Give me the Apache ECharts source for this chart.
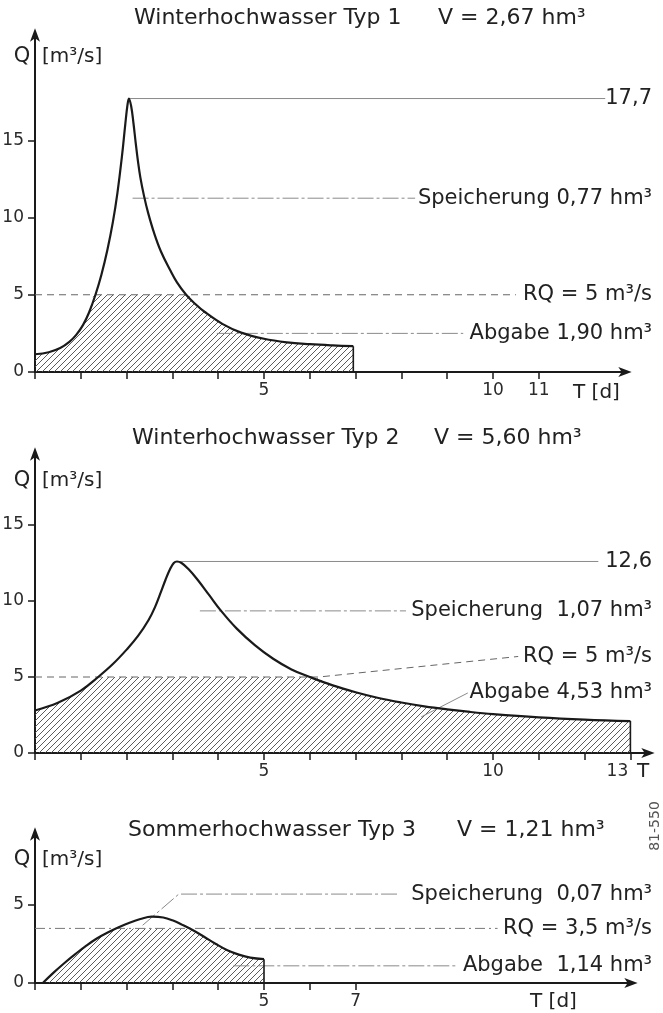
<!DOCTYPE html>
<html>
<head>
<meta charset="utf-8">
<script src="https://cdn.jsdelivr.net/npm/echarts@6/dist/echarts.min.js"></script>
<style>
  html, body { margin: 0; padding: 0; background: #fff; }
  #c { width: 663px; height: 1013px; }
</style>
</head>
<body>
<div id="c"></div>
<script>
// ---- Winterhochwasser Typ 1 ----
const t1 = [0, 0.3, 0.55, 0.75, 0.9, 1.05, 1.18, 1.32, 1.45, 1.58, 1.7, 1.8, 1.9, 1.97, 2.02, 2.05, 2.1, 2.15, 2.2, 2.25, 2.3, 2.38, 2.47, 2.6, 2.75, 2.95, 3.1, 3.3, 3.5, 3.7, 4.1, 4.5, 5.0, 5.5, 6.0, 6.5, 6.95];
const q1 = [1.15, 1.28, 1.55, 1.95, 2.4, 3.05, 3.85, 5.0, 6.3, 7.9, 9.7, 11.6, 14.0, 16.0, 17.3, 17.7, 17.2, 16.1, 14.8, 13.6, 12.6, 11.4, 10.3, 9.0, 7.8, 6.6, 5.8, 5.0, 4.4, 3.9, 3.1, 2.55, 2.15, 1.92, 1.8, 1.72, 1.67];
const rq1 = 5;
const xTicks1 = [0, 1, 2, 3, 4, 5, 6, 7, 8, 9, 10, 11];
const xLabels1 = [5, 10, 11];
const yTicks1 = [0, 5, 10, 15];
const peakLead1 = [[2.05, 17.7], [12.45, 17.7]];
const storeLead1 = [[2.13, 11.25], [8.3, 11.25]];
const rqLead1 = [[0, 5], [10.5, 5]];
const outLead1 = [[3.97, 2.5], [9.35, 2.5]];

// ---- Winterhochwasser Typ 2 ----
const t2 = [0, 0.5, 1.0, 1.38, 1.7, 2.0, 2.25, 2.48, 2.62, 2.75, 2.85, 2.95, 3.03, 3.1, 3.2, 3.35, 3.55, 3.8, 4.05, 4.4, 4.8, 5.2, 5.6, 6.0, 6.5, 7.0, 7.5, 8.0, 8.5, 9.0, 9.5, 10, 11, 12, 13];
const q2 = [2.8, 3.3, 4.1, 5.0, 5.85, 6.8, 7.7, 8.75, 9.6, 10.6, 11.4, 12.1, 12.5, 12.6, 12.5, 12.1, 11.4, 10.4, 9.4, 8.2, 7.1, 6.2, 5.5, 5.0, 4.45, 4.0, 3.62, 3.32, 3.07, 2.87, 2.7, 2.56, 2.35, 2.2, 2.1];
const rq2 = 5;
const xTicks2 = [0, 1, 2, 3, 4, 5, 6, 7, 8, 9, 10, 11, 12, 13];
const xLabels2 = [5, 10, 13];
const yTicks2 = [0, 5, 10, 15];
const peakLead2 = [[3.1, 12.6], [12.3, 12.6]];
const storeLead2 = [[3.6, 9.35], [8.1, 9.35]];
const rqLead2 = [[0, 5], [6.2, 5], [10.55, 6.35]];
const outLead2 = [[8.43, 2.37], [9.45, 3.95]];

// ---- Sommerhochwasser Typ 3 ----
const t3 = [0.17, 0.4, 0.65, 0.9, 1.1, 1.35, 1.6, 1.85, 2.05, 2.3, 2.55, 2.8, 3.0, 3.2, 3.45, 3.7, 3.95, 4.2, 4.45, 4.7, 5.0];
const q3 = [0, 0.65, 1.3, 1.9, 2.35, 2.85, 3.25, 3.6, 3.85, 4.1, 4.25, 4.2, 4.02, 3.75, 3.38, 2.95, 2.5, 2.1, 1.82, 1.63, 1.53];
const rq3 = 3.5;
const xTicks3 = [0, 1, 2, 3, 4, 5, 6, 7];
const xLabels3 = [5, 7];
const yTicks3 = [0, 5];
const storeLead3 = [[2.35, 3.7], [3.14, 5.7], [7.97, 5.7]];
const rqLead3 = [[0, 3.5], [10.1, 3.5]];
const outLead3 = [[4.33, 1.1], [9.2, 1.1]];

const FONT = 'DejaVu Sans';
const INK = '#1a1a1a';
const LEAD = '#8a8a8a';
const DASHDOT = [16, 3, 3, 3];

// diagonal hatch tile
function hatchTile() {
  const c = document.createElement('canvas');
  c.width = 6; c.height = 6;
  const g = c.getContext('2d');
  g.strokeStyle = '#4a4a4a';
  g.lineWidth = 0.9;
  g.beginPath();
  g.moveTo(0, 6); g.lineTo(6, 0);
  g.moveTo(-1, 1); g.lineTo(1, -1);
  g.moveTo(5, 7); g.lineTo(7, 5);
  g.stroke();
  return c;
}
const tile = hatchTile();

// points of the hydrograph capped at the release discharge
function capped(ts, qs, cap) {
  const out = [];
  for (let i = 0; i < ts.length; i++) {
    if (i > 0 && (qs[i - 1] - cap) * (qs[i] - cap) < 0) {
      const tc = ts[i - 1] + (cap - qs[i - 1]) * (ts[i] - ts[i - 1]) / (qs[i] - qs[i - 1]);
      out.push([tc, cap]);
    }
    out.push([ts[i], Math.min(qs[i], cap)]);
  }
  return out;
}
const pairs = (ts, qs) => ts.map((t, i) => [t, qs[i]]);

const arrow = 'path://M0,0 L6,16 L0,12 L-6,16 Z';

function xAxisFor(idx, max, ticks, labels, rich) {
  return {
    type: 'value', gridIndex: idx, min: 0, max: max, interval: 1,
    axisLine: { show: true, onZero: false, symbol: ['none', arrow], symbolSize: [10, 15], lineStyle: { color: INK, width: 2 } },
    axisTick: { show: true, length: 7, customValues: ticks, lineStyle: { color: INK, width: 1.5 } },
    axisLabel: {
      show: true, margin: 10, showMaxLabel: false, fontSize: 17, color: '#2a2a2a', fontFamily: FONT,
      formatter: v => labels.indexOf(v) < 0 ? '' : (rich && v === 13 ? '{r|13}' : String(v)),
      rich: { r: { fontSize: 17, color: '#2a2a2a', fontFamily: FONT, padding: [0, 26, 0, 0] } }
    },
    splitLine: { show: false }
  };
}
function yAxisFor(idx, max, ticks) {
  return {
    type: 'value', gridIndex: idx, min: 0, max: max, interval: 5,
    axisLine: { show: true, onZero: false, symbol: ['none', arrow], symbolSize: [10, 15], lineStyle: { color: INK, width: 2 } },
    axisTick: { show: true, length: 7, customValues: ticks, lineStyle: { color: INK, width: 1.5 } },
    axisLabel: {
      show: true, margin: 11, showMaxLabel: false, fontSize: 17, color: '#2a2a2a', fontFamily: FONT,
      formatter: v => ticks.indexOf(v) < 0 ? '' : String(v)
    },
    splitLine: { show: false }
  };
}

// leader lines with their annotation text
const leaders = [
  { g: 0, data: peakLead1, text: '17,7', dash: 'solid' },
  { g: 0, data: storeLead1, text: 'Speicherung 0,77 hm³', dash: DASHDOT },
  { g: 0, data: rqLead1, text: 'RQ = 5 m³/s', dash: [7, 5], color: '#666' },
  { g: 0, data: outLead1, text: 'Abgabe 1,90 hm³', dash: DASHDOT },
  { g: 1, data: peakLead2, text: '12,6', dash: 'solid' },
  { g: 1, data: storeLead2, text: 'Speicherung  1,07 hm³', dash: DASHDOT },
  { g: 1, data: rqLead2, text: 'RQ = 5 m³/s', dash: [7, 5], color: '#666' },
  { g: 1, data: outLead2, text: 'Abgabe 4,53 hm³', dash: 'solid' },
  { g: 2, data: storeLead3, text: 'Speicherung  0,07 hm³', dash: DASHDOT },
  { g: 2, data: rqLead3, text: 'RQ = 3,5 m³/s', dash: [10, 4, 2, 4], color: '#777' },
  { g: 2, data: outLead3, text: 'Abgabe  1,14 hm³', dash: DASHDOT }
];

function panel(idx, ts, qs, rq) {
  const end = ts.length - 1;
  return [
    { type: 'line', xAxisIndex: idx, yAxisIndex: idx, data: capped(ts, qs, rq), symbol: 'none', z: 1,
      smooth: 0.4, lineStyle: { width: 0 },
      areaStyle: { color: { image: tile, repeat: 'repeat' }, opacity: 1 } },
    { type: 'line', xAxisIndex: idx, yAxisIndex: idx, data: pairs(ts, qs), symbol: 'none', z: 4,
      smooth: 0.4, lineStyle: { color: INK, width: 2.2 } },
    { type: 'line', xAxisIndex: idx, yAxisIndex: idx, data: [[ts[end], 0], [ts[end], qs[end]]], symbol: 'none', z: 4,
      lineStyle: { color: INK, width: 1.6 } }
  ];
}

const series = [].concat(
  panel(0, t1, q1, rq1),
  panel(1, t2, q2, rq2),
  panel(2, t3, q3, rq3),
  leaders.map(l => ({
    type: 'line', xAxisIndex: l.g, yAxisIndex: l.g, data: l.data, symbol: 'none', silent: true, z: 2,
    lineStyle: { color: l.color || LEAD, width: 1, type: l.dash }
  }))
);

const txt = (x, y, s, size, align, fill) => ({
  type: 'text', x: x, y: y, silent: true,
  style: { text: s, fontSize: size, fontFamily: FONT, fill: fill || '#222', align: align || 'left', verticalAlign: 'middle' }
});

const fixedText = [
  txt(134, 18, 'Winterhochwasser Typ 1', 22),
  txt(438, 18, 'V = 2,67 hm³', 22),
  txt(22, 57, 'Q', 21, 'center'),
  txt(42, 57, '[m³/s]', 20),
  txt(573, 393, 'T [d]', 20),

  txt(132, 438, 'Winterhochwasser Typ 2', 22),
  txt(434, 438, 'V = 5,60 hm³', 22),
  txt(22, 481, 'Q', 21, 'center'),
  txt(42, 481, '[m³/s]', 20),
  txt(637, 772, 'T', 20),

  txt(128, 830, 'Sommerhochwasser Typ 3', 22),
  txt(457, 830, 'V = 1,21 hm³', 22),
  txt(22, 860, 'Q', 21, 'center'),
  txt(42, 860, '[m³/s]', 20),
  txt(530, 1002, 'T [d]', 20),

  { type: 'text', x: 655, y: 826, rotation: Math.PI / 2, silent: true,
    style: { text: '81-550', fontSize: 14, fontFamily: FONT, fill: '#555', align: 'center', verticalAlign: 'middle' } }
];

const chart = echarts.init(document.getElementById('c'), null, { renderer: 'canvas' });
chart.setOption({
  animation: false,
  backgroundColor: '#fff',
  grid: [
    { left: 35, top: 35, width: 590, height: 337, containLabel: false, outerBoundsMode: 'none' },
    { left: 35, top: 454, width: 613, height: 299, containLabel: false, outerBoundsMode: 'none' },
    { left: 35, top: 834, width: 596, height: 149, containLabel: false, outerBoundsMode: 'none' }
  ],
  xAxis: [
    xAxisFor(0, 590 / 45.8, xTicks1, xLabels1, false),
    xAxisFor(1, 613 / 45.8, xTicks2, xLabels2, true),
    xAxisFor(2, 596 / 45.8, xTicks3, xLabels3, false)
  ],
  yAxis: [
    yAxisFor(0, 337 / 15.45, yTicks1),
    yAxisFor(1, 299 / 15.2, yTicks2),
    yAxisFor(2, 149 / 15.6, yTicks3)
  ],
  series: series
});

// annotation texts, right-aligned, at the height of each leader's end point
const noteText = leaders.map(l => {
  const p = chart.convertToPixel({ gridIndex: l.g }, l.data[l.data.length - 1]);
  return txt(652, p[1], l.text, 21, 'right');
});
chart.setOption({ graphic: fixedText.concat(noteText) });
</script>
</body>
</html>
